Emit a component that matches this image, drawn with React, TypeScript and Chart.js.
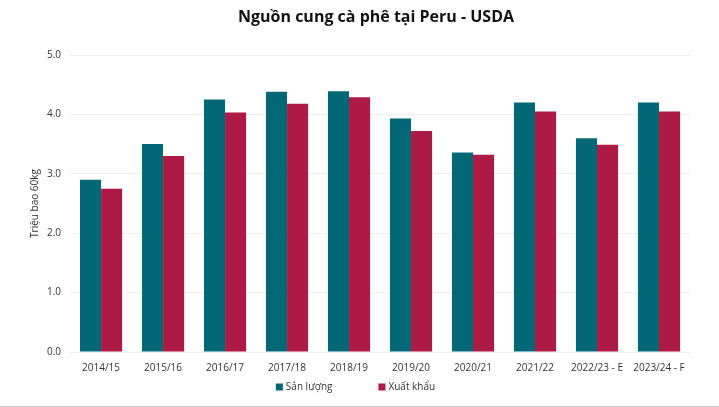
import React, { useEffect, useRef } from "react";
import { Chart, registerables } from "chart.js";

Chart.register(...registerables);

const categories = ["2014/15", "2015/16", "2016/17", "2017/18", "2018/19", "2019/20", "2020/21", "2021/22", "2022/23 - E", "2023/24 - F"];
const production = [2.9, 3.5, 4.25, 4.38, 4.39, 3.93, 3.36, 4.2, 3.6, 4.2];
const exports = [2.75, 3.3, 4.03, 4.18, 4.29, 3.72, 3.32, 4.05, 3.49, 4.05];
const seriesNames = ["Sản lượng", "Xuất khẩu"];
const seriesColors = ["#026876", "#ac1a45"];
const titleText = "Nguồn cung cà phê tại Peru - USDA";
const yTitle = "Triệu bao 60kg";

const FONT = "'Open Sans'";

const decorations = {
  id: "decorations",
  afterDraw(chart: any) {
    const ctx = chart.ctx as CanvasRenderingContext2D;
    const area = chart.chartArea;
    ctx.save();
    // title, centred over the plot area
    ctx.font = `bold 16px ${FONT}`;
    ctx.textBaseline = "middle";
    ctx.textAlign = "center";
    ctx.fillStyle = "#111";
    ctx.fillText(titleText, (area.left + area.right) / 2 - 4, 17);

    // legend
    ctx.font = `10px ${FONT}`;
    ctx.textAlign = "left";
    const box = 7;
    const boxGap = 3;
    const itemGap = 46;
    const items = chart.data.datasets.map((ds: any) => ({
      text: String(ds.label),
      color: String(ds.backgroundColor),
      w: box + boxGap + ctx.measureText(String(ds.label)).width,
    }));
    const total = items.reduce((s: number, it: any) => s + it.w, 0) + itemGap * (items.length - 1);
    let x = chart.width / 2 - 4 - total / 2;
    const y = chart.height - 19;
    items.forEach((it: any) => {
      ctx.fillStyle = it.color;
      ctx.fillRect(x, y - box / 2, box, box);
      ctx.fillStyle = "#333";
      ctx.fillText(it.text, x + box + boxGap, y);
      x += it.w + itemGap;
    });
    ctx.restore();
  },
};

export default function App() {
  const ref = useRef<HTMLCanvasElement>(null);
  useEffect(() => {
    document.body.style.margin = "0";
    const ctx = ref.current!;
    const chart = new Chart(ctx, {
      type: "bar",
      data: {
        labels: categories,
        datasets: [
          { label: seriesNames[0], data: production, backgroundColor: seriesColors[0], borderWidth: 0 },
          { label: seriesNames[1], data: exports, backgroundColor: seriesColors[1], borderWidth: 0 },
        ],
      },
      plugins: [decorations],
      options: {
        animation: false,
        responsive: false,
        maintainAspectRatio: false,
        layout: { padding: { left: 28, right: 29, top: 55, bottom: 30 } },
        datasets: { bar: { categoryPercentage: 0.68, barPercentage: 1 } },
        plugins: {
          title: { display: false },
          legend: { display: false },
          tooltip: { enabled: false },
        },
        scales: {
          x: {
            grid: { display: false },
            border: { display: false },
            ticks: { color: "#333", font: { family: FONT, size: 10 }, padding: 2, maxRotation: 0 },
          },
          y: {
            min: 0,
            max: 5,
            ticks: {
              stepSize: 1,
              color: "#333",
              padding: 9,
              font: { family: FONT, size: 10 },
              callback: (v: any) => Number(v).toFixed(1),
            },
            grid: { color: "#f0f0f0", drawTicks: false },
            border: { display: false },
            title: {
              display: true,
              text: yTitle,
              color: "#333",
              font: { family: FONT, size: 10, lineHeight: 0.5 },
              padding: { top: 5, bottom: 0 },
            },
          },
        },
      },
    });
    return () => chart.destroy();
  }, []);
  return (
    <div style={{ position: "absolute", left: 0, top: 0, width: 719, height: 407, background: "#fff" }}>
      <canvas ref={ref} width={719} height={406} style={{ display: "block", width: 719, height: 406 }} />
      <div style={{ height: 1, background: "#cfcfcf" }} />
    </div>
  );
}
